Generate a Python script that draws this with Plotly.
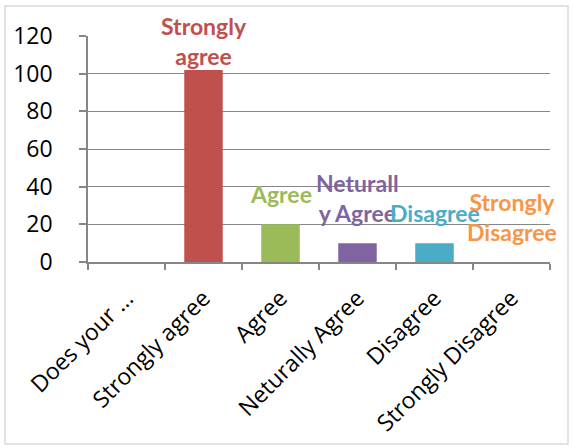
import plotly.graph_objects as go

categories = ["Does your …", "Strongly agree", "Agree", "Neturally Agree", "Disagree", "Strongly Disagree"]
values = [0, 102, 20, 10, 10, 0]
labels = ["", "Strongly<br>agree", "Agree", "Neturall<br>y Agree", "Disagree", "Strongly<br>Disagree"]
colors = ["#4F81BD", "#C0504D", "#9BBB59", "#8064A2", "#4BACC6", "#F79646"]

fig = go.Figure()
fig.add_trace(go.Bar(
    x=categories, y=values, width=0.5,
    marker=dict(color=colors, line=dict(width=0)),
    hoverinfo="skip",
))

vmax = max(values)
for c, v, t, col in zip(categories, values, labels, colors):
    if t:
        fig.add_annotation(x=c, y=v, text=t, showarrow=False, yanchor="bottom",
                           yshift=(-2 if v == vmax else 14), align="center",
                           font=dict(family="Lato", size=23, color=col, weight="bold"))

L, R, T, B = 88, 24, 36, 186
W, H = 574, 448
pw, ph = W - L - R, H - T - B

def px(x):
    return (x - L) / pw

def py(y):
    return (H - B - y) / ph

fig.add_shape(type="rect", xref="paper", yref="paper",
              x0=px(5), x1=px(568), y0=py(444), y1=py(6),
              line=dict(color="#D9D9D9", width=1.5), layer="below")

fig.update_layout(
    width=W, height=H, margin=dict(l=L, r=R, t=T, b=B, pad=0, autoexpand=False),
    paper_bgcolor="white", plot_bgcolor="white", showlegend=False,
    font=dict(family="Open Sans", color="black"),
)
fig.update_xaxes(
    type="category", tickangle=-45, tickson="boundaries", automargin=False,
    range=[-0.5, len(categories) - 0.5],
    ticks="outside", ticklen=6, tickcolor="#868686", tickwidth=1.5,
    showline=True, linecolor="#868686", linewidth=1.5,
    tickfont=dict(family="Open Sans", size=23, color="black"),
    ticklabelstandoff=12,
    showgrid=False,
)
fig.update_yaxes(
    range=[0, 120], dtick=20, tick0=0, automargin=False,
    ticks="outside", ticklen=7, tickcolor="#868686", tickwidth=1.5,
    showline=True, linecolor="#868686", linewidth=1.5,
    showgrid=True, gridcolor="#868686", gridwidth=1.3,
    tickfont=dict(family="Open Sans", size=23, color="black"),
    ticklabelstandoff=22,
    zeroline=False,
)

fig.write_html("out.html")
